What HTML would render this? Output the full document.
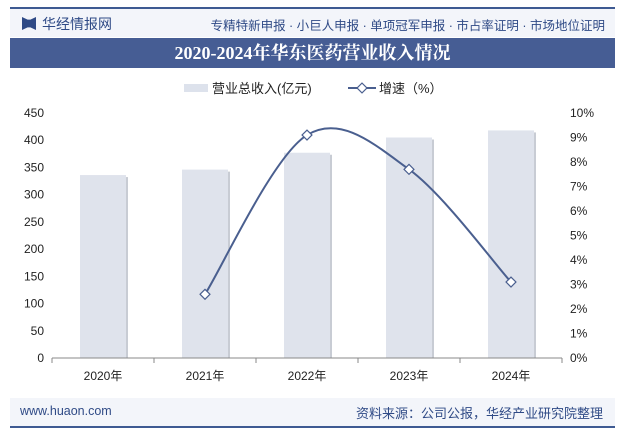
<!DOCTYPE html>
<html><head><meta charset="utf-8"><style>
body{margin:0;width:625px;height:436px;background:#fff;font-family:"Liberation Sans","Noto Sans CJK SC",sans-serif;overflow:hidden;position:relative}
.abs{position:absolute}
</style></head><body>
<div class="abs" style="left:10px;top:7px;width:605px;height:2px;background:#3e5a92"></div>
<div class="abs" style="left:10px;top:9px;width:605px;height:28px;background:#f3f5fa"></div>
<div class="abs" style="left:22px;top:17px;width:14px;height:13px;background:#2f4a86;clip-path:polygon(0 0,40% 20%,60% 20%,100% 0,100% 100%,60% 80%,40% 80%,0 100%)"></div>
<div class="abs" style="left:42px;top:14px;font-size:14px;color:#2f4a86">华经情报网</div>
<div class="abs" style="right:20px;top:15px;font-size:12.5px;color:#2f4a86">专精特新申报 · 小巨人申报 · 单项冠军申报 · 市占率证明 · 市场地位证明</div>
<div class="abs" style="left:10px;top:38px;width:605px;height:30px;background:#465d94;color:#fff;font-family:'Liberation Serif','Noto Serif CJK SC',serif;font-weight:bold;font-size:18px;line-height:30px;text-align:center">2020-2024年华东医药营业收入情况</div>
<div class="abs" style="left:10px;top:398px;width:605px;height:28px;background:#f3f5fa"></div>
<div class="abs" style="left:10px;top:426px;width:605px;height:2px;background:#3e5a92"></div>
<div class="abs" style="left:20px;top:404px;font-size:12.5px;color:#2f4a86">www.huaon.com</div>
<div class="abs" style="right:22px;top:403px;font-size:13px;color:#2f4a86">资料来源：公司公报，华经产业研究院整理</div>
<svg class="abs" style="left:0;top:0" width="625" height="436" id="chart"></svg>
<script>
const categories=["2020年","2021年","2022年","2023年","2024年"];
const revenue=[336,346,377,405,418];
const growthYears=[1,2,3,4];
const growth=[2.6,9.1,7.7,3.1];
const leftTicks=[0,50,100,150,200,250,300,350,400,450];
const rightTicks=[0,1,2,3,4,5,6,7,8,9,10];
const NS="http://www.w3.org/2000/svg";
const svg=document.getElementById('chart');
const L=52,R=562,T=113,B=358;
const band=(R-L)/categories.length;
const xc=i=>L+band*(i+0.5);
const yL=v=>B-(v/450)*(B-T);
const yR=v=>B-(v/10)*(B-T);
function el(t,a,txt){const e=document.createElementNS(NS,t);for(const k in a)e.setAttribute(k,a[k]);if(txt!==undefined)e.textContent=txt;svg.appendChild(e);return e;}
// legend
let e=el('rect',{x:184,y:84,width:24,height:8,fill:'#dde2ec'});

e=el('text',{x:212,y:93,'font-size':13,fill:'#222'},'营业总收入(亿元)');

e=el('line',{x1:348,y1:88,x2:376,y2:88,stroke:'#4a5f8f','stroke-width':2});

e=el('rect',{x:358.5,y:84.5,width:7,height:7,fill:'#fff',stroke:'#4a5f8f','stroke-width':1.2,transform:'rotate(45 362 88)'});

e=el('text',{x:379,y:93,'font-size':13,fill:'#222'},'增速（%）');

// axis ticks
leftTicks.forEach(v=>{const t=el('text',{x:44,y:yL(v)+4,'font-size':12,fill:'#222','text-anchor':'end'},v);
});
rightTicks.forEach(v=>{const t=el('text',{x:570,y:yR(v)+4,'font-size':12,fill:'#222'},v+'%');
});
// bars
revenue.forEach((v,i)=>{const b=el('rect',{x:xc(i)-23,y:yL(v),width:46,height:B-yL(v),fill:'#dfe3ec'});

const s=el('rect',{x:xc(i)+23,y:yL(v)+2,width:2,height:B-yL(v)-2,fill:'#c8ccd4'});
});
// x axis
e=el('line',{x1:L,y1:B,x2:R,y2:B,stroke:'#888','stroke-width':1});

for(let i=0;i<=categories.length;i++){const t=el('line',{x1:L+band*i,y1:B,x2:L+band*i,y2:B+5,stroke:'#888'});
}
categories.forEach((c,i)=>{const t=el('text',{x:xc(i),y:B+22,'font-size':12,fill:'#222','text-anchor':'middle'},c);
});
// smooth growth line (catmull-rom)
const pts=growthYears.map((k,j)=>[xc(k),yR(growth[j])]);
let d='M'+pts[0][0]+','+pts[0][1];
for(let i=0;i<pts.length-1;i++){const p0=pts[i-1]||pts[i],p1=pts[i],p2=pts[i+1],p3=pts[i+2]||p2;
const c1=[p1[0]+(p2[0]-p0[0])/6,p1[1]+(p2[1]-p0[1])/6],c2=[p2[0]-(p3[0]-p1[0])/6,p2[1]-(p3[1]-p1[1])/6];
d+=` C${c1[0]},${c1[1]} ${c2[0]},${c2[1]} ${p2[0]},${p2[1]}`;}
e=el('path',{d:d,fill:'none',stroke:'#4a5f8f','stroke-width':2});

pts.forEach((p,j)=>{const m=el('rect',{x:p[0]-3.5,y:p[1]-3.5,width:7,height:7,fill:'#fff',stroke:'#4a5f8f','stroke-width':1.2,transform:`rotate(45 ${p[0]} ${p[1]})`});
});
</script>
</body></html>
